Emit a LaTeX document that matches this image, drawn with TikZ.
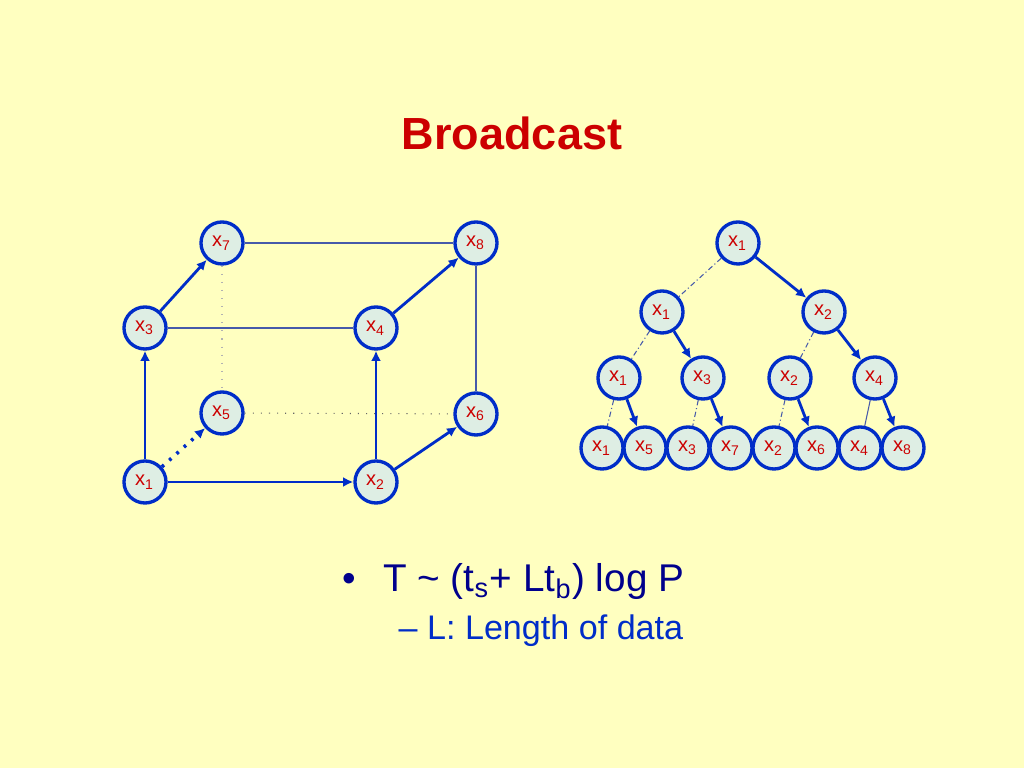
\documentclass[tikz,border=0pt]{standalone}
\usepackage{fontspec}
\setmainfont{Liberation Sans}
\usetikzlibrary{arrows.meta}
\definecolor{slidebg}{RGB}{255,255,192}
\definecolor{nodefill}{RGB}{222,238,228}
\definecolor{linkblue}{RGB}{0,45,200}
\definecolor{labelred}{RGB}{204,0,0}
\definecolor{textnavy}{RGB}{0,0,140}
\definecolor{thinblue}{RGB}{70,90,170}
\tikzset{
  pe/.style={circle,draw=linkblue,line width=0.95pt,fill=nodefill,minimum size=0.42cm,
    inner sep=0pt,text=labelred,font=\fontsize{5.7pt}{6pt}\selectfont},
  bcast/.style={-{Latex[length=2.9pt,width=2.8pt]},line width=0.8pt,draw=linkblue},
  link/.style={line width=0.3pt,draw=thinblue},
  idle/.style={line width=0.3pt,draw=thinblue,dash pattern=on 1.5pt off 0.8pt on 0.3pt off 0.8pt}
}
\begin{document}
\begin{tikzpicture}[x=0.01cm,y=-0.01cm]
% slide background
\fill[slidebg] (0,0) rectangle (1024,768);
\node[font=\fontsize{12.8pt}{14pt}\selectfont\bfseries,text=labelred] (title) at (512,133) {Broadcast};
% Hypercube: node k holds x_k
\foreach \k/\x/\y in {1/145/482, 2/376/482, 3/145/328, 4/376/328,
	5/222/413, 6/476/414, 7/222/243, 8/476/243} {
	\node[pe] (c\k) at (\x,\y) {x\textsubscript{\k}};
}
% cube edges not used by the broadcast
\draw[link] (c7) -- (c8);
\draw[link] (c3) -- (c4);
\draw[link] (c8) -- (c6);
\draw[line width=0.3pt,draw=gray!60,dotted] (c7) -- (c5);
\draw[line width=0.3pt,draw=gray!80!black,dotted] (c5) -- (c6);
% broadcast steps
\foreach \a/\b in {1/3, 1/2, 3/7, 2/4, 2/6, 4/8} {
	\draw[bcast] (c\a) -- (c\b);
}
\draw[bcast,dotted,line width=1pt] (c1) -- (c5);
% Tree view of the same broadcast
\node[pe] (t1) at (738,243) {x\textsubscript{1}};
\foreach \i/\x/\k in {1/662/1, 2/824/2} {
	\node[pe] (u\i) at (\x,312) {x\textsubscript{\k}};
}
\foreach \i/\x/\k in {1/619/1, 2/703/3, 3/790/2, 4/875/4} {
	\node[pe] (v\i) at (\x,378) {x\textsubscript{\k}};
}
\foreach \i/\x/\k in {1/602/1, 2/645/5, 3/688/3, 4/731/7,
	5/774/2, 6/817/6, 7/860/4, 8/903/8} {
	\node[pe] (w\i) at (\x,448) {x\textsubscript{\k}};
}
% left child keeps the data
\foreach \a/\b in {t1/u1, u1/v1, v1/w1, v2/w3, u2/v3, v3/w5} {
	\draw[idle] (\a) -- (\b);
}
\draw[link] (v4) -- (w7);
% right child receives it
\foreach \a/\b in {t1/u2, u1/v2, v1/w2, v2/w4, u2/v4, v3/w6, v4/w8} {
	\draw[bcast] (\a) -- (\b);
}
% cost
\node[anchor=base west,inner sep=0pt,font=\fontsize{11pt}{12pt}\selectfont,text=textnavy] (cost) at (342,592)
	{\textbullet\hspace{0.27cm}T \textasciitilde{} (t\textsubscript{s}+ Lt\textsubscript{b}) log P};
\node[anchor=base west,inner sep=0pt,font=\fontsize{9.7pt}{11pt}\selectfont,text=linkblue] (note) at (398,640)
	{– L: Length of data};
\end{tikzpicture}
\end{document}
